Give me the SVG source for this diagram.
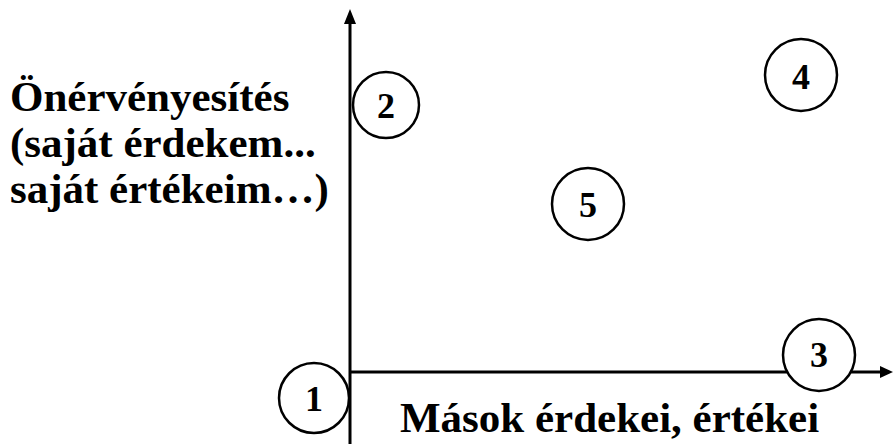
<svg xmlns="http://www.w3.org/2000/svg" width="893" height="444" viewBox="0 0 893 444">
<style>
.lbl{font-family:'Liberation Serif','Times New Roman',serif;font-weight:700;font-size:43px;fill:#000}
.num{font-family:'Liberation Serif','Times New Roman',serif;font-weight:700;font-size:36px;fill:#000;text-anchor:middle}
.c{fill:#fff;stroke:#000;stroke-width:2.5}
.ax{stroke:#000;stroke-width:3;fill:none}
</style>
<rect width="893" height="444" fill="#fff"/>
<g id="connectors">
<line class="ax" x1="350" y1="22" x2="350" y2="444"/>
<polygon points="350,9 344,24 356,24" fill="#000"/>
<line class="ax" x1="350" y1="372" x2="882" y2="372"/>
<polygon points="893,372 880,366 880,378" fill="#000"/>
</g>
<g id="label-y">
<text class="lbl" x="10" y="111">Önérvényesítés</text>
<text class="lbl" x="10" y="157">(saját érdekem...</text>
<text class="lbl" x="10" y="203">saját értékeim…)</text>
</g>
<g id="label-x">
<text class="lbl" x="400" y="432">Mások érdekei, értékei</text>
</g>
<g id="n1"><circle class="c" cx="314" cy="398" r="35"/><text class="num" x="314" y="411">1</text></g>
<g id="n2"><circle class="c" cx="386" cy="105" r="33"/><text class="num" x="386" y="118">2</text></g>
<g id="n3"><circle class="c" cx="819" cy="355" r="36"/><text class="num" x="819" y="367">3</text></g>
<g id="n4"><circle class="c" cx="801" cy="75" r="36"/><text class="num" x="801" y="89">4</text></g>
<g id="n5"><circle class="c" cx="588" cy="204" r="36"/><text class="num" x="588" y="217">5</text></g>
</svg>
